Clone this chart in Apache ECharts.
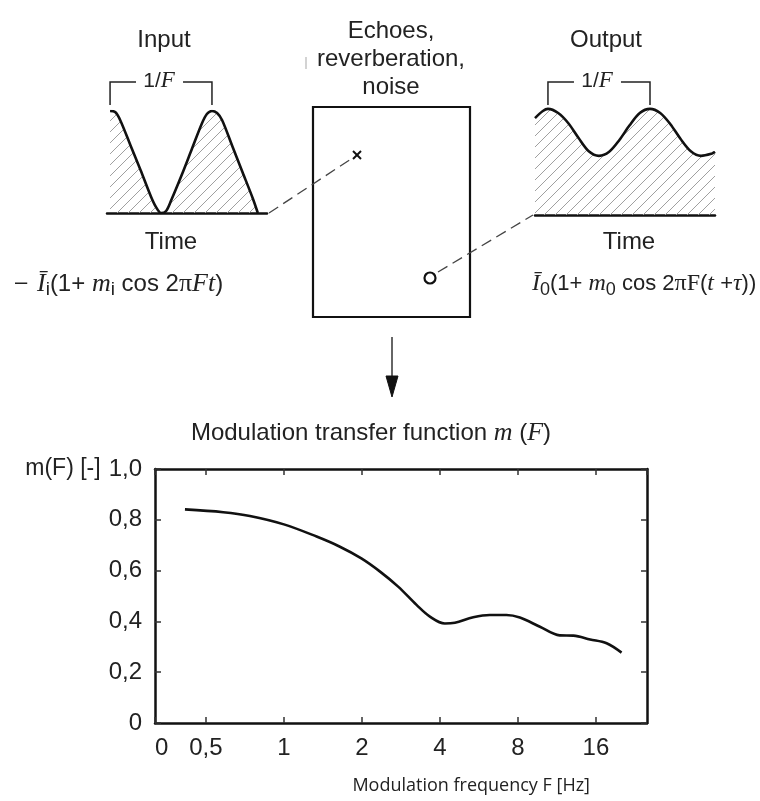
<!DOCTYPE html>
<html>
<head>
<meta charset="utf-8">
<script src="https://cdn.jsdelivr.net/npm/echarts@6/dist/echarts.min.js"></script>
<style>
  html, body { margin: 0; padding: 0; background: #fff; }
  #chart { width: 760px; height: 801px; }
</style>
</head>
<body>
<div id="chart"></div>
<script>
// Modulation transfer function m(F) sampled along the frequency axis F [Hz]
const mtfFreq  = [0.415, 0.583, 0.739, 1.0, 1.337, 1.645, 1.99, 2.35, 2.76, 3.25, 3.66, 4.18, 4.57, 5.38, 6.23, 7.23, 8.14, 9.73, 11.6, 13.1, 15.2, 17.6, 20.1];
const mtfValue = [0.841, 0.830, 0.815, 0.782, 0.734, 0.694, 0.648, 0.596, 0.537, 0.465, 0.419, 0.392, 0.395, 0.416, 0.425, 0.425, 0.415, 0.379, 0.345, 0.344, 0.329, 0.314, 0.277];
// Frequency axis extent (octave scale) and m axis extent
const freqRange = [0.318, 25.2];
const mRange = [0, 1];
const mStep = 0.2;

// Input intensity over time, time in periods 1/F (fully modulated)
const inputTime  = [0, 0.05, 0.1, 0.2, 0.3, 0.4, 0.45, 0.5, 0.55, 0.6, 0.7, 0.8, 0.9, 0.95, 1.0, 1.05, 1.1, 1.2, 1.3, 1.4, 1.45];
const inputLevel = [2, 1.98, 1.82, 1.33, 0.84, 0.33, 0.12, 0, 0.04, 0.25, 0.73, 1.24, 1.75, 1.94, 2, 1.96, 1.82, 1.31, 0.8, 0.29, 0];
// Output intensity over time (reduced modulation depth)
const outputTime  = [-0.127, -0.05, 0, 0.1, 0.2, 0.3, 0.4, 0.5, 0.6, 0.7, 0.8, 0.9, 1.0, 1.1, 1.2, 1.3, 1.4, 1.5, 1.6, 1.637];
const outputLevel = [1.9, 2.04, 2.08, 2.0, 1.8, 1.51, 1.25, 1.16, 1.24, 1.47, 1.76, 2.0, 2.08, 2.0, 1.78, 1.49, 1.25, 1.16, 1.2, 1.24];
const inputSpan  = [-0.03, 1.54];
const outputSpan = [-0.127, 1.637];

const INK = '#222';
const SANS = '"Liberation Sans", Arial, sans-serif';
const SERIF = '"Liberation Serif", "Times New Roman", serif';

function zip(xs, ys) { return xs.map((x, i) => [x, ys[i]]); }

// diagonal hatch used under the waveforms
function hatchTile() {
  const s = 11;
  const c = document.createElement('canvas');
  c.width = s; c.height = s;
  const g = c.getContext('2d');
  g.strokeStyle = '#a0a0a0';
  g.lineWidth = 1;
  g.beginPath();
  g.moveTo(0, s); g.lineTo(s, 0);
  g.moveTo(-2, 2); g.lineTo(2, -2);
  g.moveTo(s - 2, s + 2); g.lineTo(s + 2, s - 2);
  g.stroke();
  return c;
}
const hatch = { image: hatchTile(), repetition: 'repeat' };

function freqLabel(v) {
  if (v < 0.45) return '0';
  const r = Math.round(v * 10) / 10;
  return String(r).replace('.', ',');
}
function mLabel(v) {
  if (v === 0) return '0';
  const s = v.toFixed(1).replace('.', ',');
  return v >= 0.999 ? '{u|m(F) [-]}{v|' + s + '}' : s;
}

const hidden = { show: false };
const frameLine = { show: true, onZero: false, lineStyle: { color: '#111', width: 2.5 } };
const innerTick = { show: true, inside: true, length: 6, lineStyle: { color: '#333', width: 1.5 } };
const tickFont = { fontFamily: SANS, fontSize: 24, color: INK };

const chart = echarts.init(document.getElementById('chart'));

const option = {
  animation: false,
  backgroundColor: '#fff',
  grid: [
    { left: 107, top: 111, width: 160, height: 102 },
    { left: 535, top: 102.8, width: 180, height: 112.2 },
    { left: 155, top: 469, width: 492, height: 254 }
  ],
  xAxis: [
    { type: 'value', gridIndex: 0, min: inputSpan[0], max: inputSpan[1],
      axisLine: frameLine, axisTick: hidden, axisLabel: hidden, splitLine: hidden },
    { type: 'value', gridIndex: 1, min: outputSpan[0], max: outputSpan[1],
      axisLine: frameLine, axisTick: hidden, axisLabel: hidden, splitLine: hidden },
    { type: 'log', logBase: 2, gridIndex: 2, position: 'bottom', min: freqRange[0], max: freqRange[1],
      axisLine: frameLine, axisTick: innerTick, splitLine: hidden, minorTick: hidden,
      axisLabel: Object.assign({ formatter: freqLabel, margin: 13, showMaxLabel: false, alignMinLabel: 'left' }, tickFont),
      name: 'Modulation frequency F [Hz]', nameLocation: 'end', nameGap: -57,
      nameTextStyle: { fontFamily: '"Open Sans", sans-serif', fontSize: 18, color: INK,
        align: 'right', verticalAlign: 'top', padding: [54, 0, 0, 0] } },
    { type: 'log', logBase: 2, gridIndex: 2, position: 'top', min: freqRange[0], max: freqRange[1],
      axisLine: frameLine, axisTick: innerTick, axisLabel: hidden, splitLine: hidden, minorTick: hidden }
  ],
  yAxis: [
    { type: 'value', gridIndex: 0, min: 0, max: 2, show: false },
    { type: 'value', gridIndex: 1, min: 0, max: 2.2, show: false },
    { type: 'value', gridIndex: 2, position: 'left', min: mRange[0], max: mRange[1], interval: mStep,
      axisLine: frameLine, axisTick: innerTick, splitLine: hidden,
      axisLabel: Object.assign({ formatter: mLabel, margin: 13,
        rich: { u: { fontFamily: SANS, fontSize: 23, color: INK, padding: [0, 8, 0, 0] },
                v: { fontFamily: SANS, fontSize: 24, color: INK } } }, tickFont) },
    { type: 'value', gridIndex: 2, position: 'right', min: mRange[0], max: mRange[1], interval: mStep,
      axisLine: frameLine, axisTick: innerTick, axisLabel: hidden, splitLine: hidden }
  ],
  series: [
    { type: 'line', xAxisIndex: 0, yAxisIndex: 0, data: zip(inputTime, inputLevel),
      smooth: 0.3, showSymbol: false, lineStyle: { color: '#111', width: 2.6 },
      areaStyle: { color: hatch, opacity: 1 } },
    { type: 'line', xAxisIndex: 1, yAxisIndex: 1, data: zip(outputTime, outputLevel),
      smooth: 0.3, showSymbol: false, lineStyle: { color: '#111', width: 2.6 },
      areaStyle: { color: hatch, opacity: 1 } },
    { type: 'line', xAxisIndex: 2, yAxisIndex: 2, data: zip(mtfFreq, mtfValue),
      smooth: 0.35, showSymbol: false, lineStyle: { color: '#111', width: 2.6 } }
  ]
};
chart.setOption(option);

// ---- schematic annotations around the waveforms ----
function txt(text, x, y, size, opts) {
  opts = opts || {};
  return { type: 'text', x: x, y: y, silent: true,
    style: Object.assign({ text: text, fill: INK, font: size + 'px ' + SANS,
      align: opts.align || 'center', verticalAlign: 'middle',
      textAlign: opts.align || 'center', textVerticalAlign: 'middle' }, opts.style || {}) };
}
function richSet(size, subSize) {
  return {
    n:   { fontFamily: SANS, fontSize: size, lineHeight: 30, verticalAlign: 'middle', fill: INK },
    i:   { fontFamily: SERIF, fontStyle: 'italic', fontSize: size + 2, lineHeight: 30, verticalAlign: 'middle', fill: INK },
    g:   { fontFamily: SERIF, fontSize: size + 2, lineHeight: 30, verticalAlign: 'middle', fill: INK },
    sub: { fontFamily: SANS, fontSize: subSize, lineHeight: subSize, verticalAlign: 'bottom', fill: INK }
  };
}
function richTxt(text, x, y, size, align, subSize) {
  return { type: 'text', x: x, y: y, silent: true,
    style: { text: text, rich: richSet(size, subSize || size - 6), fill: INK, font: size + 'px ' + SANS,
      align: align || 'center', verticalAlign: 'middle',
      textAlign: align || 'center', textVerticalAlign: 'middle' } };
}
function seg(pts, style) {
  return { type: 'polyline', silent: true, shape: { points: pts },
    style: Object.assign({ stroke: INK, lineWidth: 1.5, fill: null }, style || {}) };
}
function bracket(gridIndex, yTop, yLeg) {
  const a = chart.convertToPixel({ gridIndex: gridIndex }, [0, 0])[0];
  const b = chart.convertToPixel({ gridIndex: gridIndex }, [1, 0])[0];
  const c = (a + b) / 2;
  return [
    seg([[a, yLeg], [a, yTop], [c - 25, yTop]]),
    seg([[c + 22, yTop], [b, yTop], [b, yLeg]]),
    richTxt('{n|1/}{i|F}', c - 2, yTop - 1, 21)
  ];
}

const inEnd = chart.convertToPixel({ gridIndex: 0 }, [inputSpan[1], 0]);
const outStart = chart.convertToPixel({ gridIndex: 1 }, [outputSpan[0], 0]);
const dash = { stroke: '#444', lineWidth: 1.3, lineDash: [11, 6] };

const graphics = [].concat(
  bracket(0, 82, 105),
  bracket(1, 82, 105),
  [
    txt('Input', 164, 40, 24),
    txt('Output', 606, 40, 24),
    txt('Time', 171, 242, 24),
    txt('Time', 629, 242, 24),
    txt('Echoes,', 391, 31, 24),
    txt('reverberation,', 391, 59, 24),
    txt('noise', 391, 87, 24),
    seg([[306, 57], [306, 69]], { stroke: '#c4c4c4', lineWidth: 1.5 }),
    txt('\u2013', 21, 283, 22),
    richTxt('{i|\u012A}{sub|i}{n|(1+ }{i|m}{sub|i}{n| cos 2}{g|\u03C0}{i|Ft}{n|)}', 37, 284, 24, 'left', 19),
    richTxt('{i|\u012A}{sub|0}{n|(1+ }{i|m}{sub|0}{n| cos 2}{g|\u03C0F}{n|(}{i|t}{n| +}{i|\u03C4}{n|))}', 532, 284, 22, 'left', 18),
    { type: 'rect', silent: true, shape: { x: 313, y: 107, width: 157, height: 210 },
      style: { fill: null, stroke: '#111', lineWidth: 2.2 } },
    seg([[inEnd[0] + 2, inEnd[1]], [351, 159]], dash),
    seg([[353, 151], [361, 159]], { stroke: '#111', lineWidth: 2 }),
    seg([[361, 151], [353, 159]], { stroke: '#111', lineWidth: 2 }),
    { type: 'circle', silent: true, shape: { cx: 430, cy: 278, r: 5.5 },
      style: { fill: '#fff', stroke: '#111', lineWidth: 2.2 } },
    seg([[438, 272], [outStart[0] - 2, outStart[1]]], dash),
    seg([[392, 337], [392, 380]], { stroke: '#333', lineWidth: 1.5 }),
    { type: 'polygon', silent: true, shape: { points: [[386, 376], [398, 376], [392, 397]] },
      style: { fill: '#111', stroke: '#111', lineWidth: 1 } },
    richTxt('{n|Modulation transfer function }{i|m}{n| (}{i|F}{n|)}', 371, 433, 24)
  ]
);

chart.setOption({ graphic: { elements: graphics } });
</script>
</body>
</html>
